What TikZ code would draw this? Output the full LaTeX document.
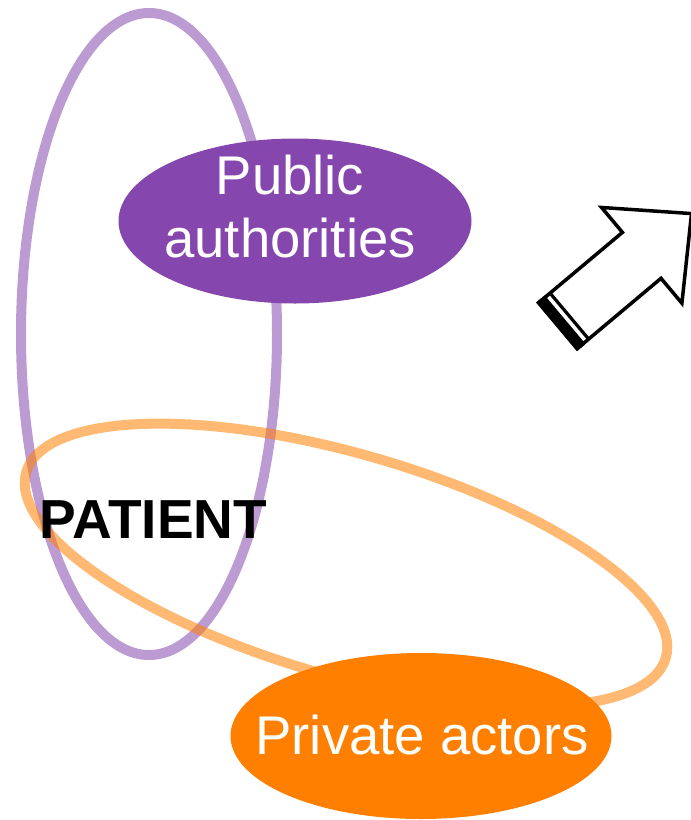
\documentclass[tikz,border=0pt]{standalone}
\usepackage{fontspec}
\setmainfont{Liberation Sans}
\usetikzlibrary{shapes.geometric}
\definecolor{pur}{HTML}{8547AD}
\definecolor{org}{HTML}{FF7F00}
\begin{document}
\begin{tikzpicture}[x=1pt,y=-1pt,
  ring/.style={line width=10pt, draw opacity=0.55},
  blob/.style={ellipse, inner sep=0pt},
  whitetext/.style={text=white, inner sep=0pt, align=center, font=\fontsize{54.5}{63}\selectfont},
  arrowline/.style={line width=3.5pt, line join=miter}]
\useasboundingbox (0,0) rectangle (691,820);
\draw[ring, draw=pur] (149,334) ellipse [x radius=128pt, y radius=321pt];
\draw[ring, draw=org, rotate around={-16.2:(346,565)}] (346,565) ellipse [x radius=333pt, y radius=111pt];
\node[blob, fill=pur, minimum width=353pt, minimum height=165pt] (pub) at (295,221) {};
\node[whitetext] (pubtext) at (290,207) {Public\\authorities};
\node[blob, fill=org, minimum width=381pt, minimum height=166pt] (priv) at (421,736) {};
\node[whitetext] (privtext) at (422,735.5) {Private actors};
\node[inner sep=0pt, font=\bfseries\fontsize{55}{60}\selectfont] (patient) at (153.5,520) {PATIENT};
\begin{scope}[shift={(556.7,326.7)}, rotate=40]
  \draw[arrowline, fill=white] (1.5,30) -- (111,30) -- (111,62.5) -- (176,0) -- (111,-62.5) -- (111,-30) -- (1.5,-30) -- cycle;
  \fill (0,-31.75) rectangle (11,31.75);
  \draw[line width=3.2pt] (16.5,-30) -- (16.5,30);
\end{scope}
\end{tikzpicture}
\end{document}
